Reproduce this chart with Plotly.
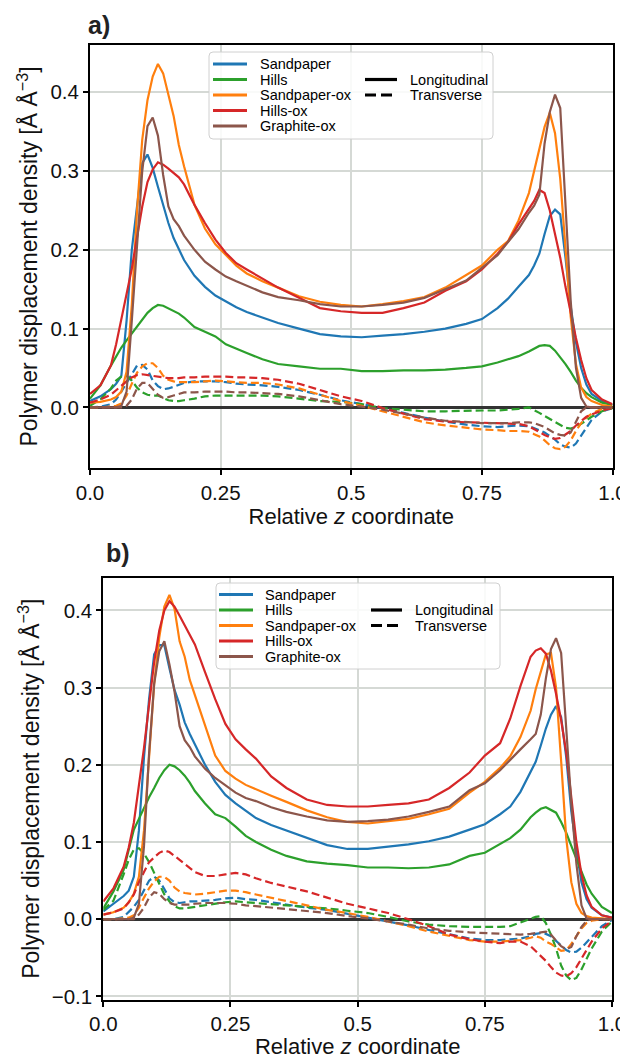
import plotly.graph_objects as go

# ---------------- data ----------------
X = [0.0, 0.02, 0.04, 0.05, 0.06, 0.07, 0.08, 0.09,
     0.10, 0.11, 0.12, 0.13, 0.14, 0.15, 0.16, 0.17, 0.18,
     0.20, 0.22, 0.24, 0.26, 0.28, 0.30,
     0.33, 0.36, 0.40, 0.44, 0.48, 0.52, 0.56, 0.60, 0.64, 0.68, 0.72,
     0.75, 0.78, 0.80, 0.82, 0.84,
     0.85, 0.86, 0.87, 0.88, 0.89, 0.90, 0.91, 0.92, 0.93, 0.94, 0.95, 0.96,
     0.98, 1.0]

SURFACES = ["Sandpaper", "Hills", "Sandpaper-ox", "Hills-ox", "Graphite-ox"]
COLORS = ["#1f77b4", "#2ca02c", "#ff7f0e", "#d62728", "#8c564b"]
STYLES = ["Longitudinal", "Transverse"]
X_TICKS = [0.0, 0.25, 0.5, 0.75, 1.0]
X_TICKTEXT = ["0.0", "0.25", "0.5", "0.75", "1.0"]
A_YTICKS = [0.0, 0.1, 0.2, 0.3, 0.4]
B_YTICKS = [-0.1, 0.0, 0.1, 0.2, 0.3, 0.4]

# panel a) longitudinal
a_sand_L = [0.008, 0.014, 0.023, 0.03, 0.04, 0.11, 0.2, 0.258,
            0.31, 0.321, 0.304, 0.28, 0.257, 0.234, 0.215, 0.2, 0.187,
            0.167, 0.153, 0.142, 0.134, 0.127, 0.121,
            0.114, 0.107, 0.1, 0.093, 0.09, 0.089, 0.091, 0.093, 0.096, 0.1, 0.106,
            0.112, 0.126, 0.138, 0.153, 0.168,
            0.18, 0.195, 0.22, 0.243, 0.251, 0.245, 0.19, 0.128, 0.083, 0.05, 0.029, 0.017,
            0.008, 0.003]
a_hills_L = [0.011, 0.028, 0.053, 0.065, 0.076, 0.085, 0.094, 0.103,
             0.111, 0.12, 0.126, 0.13, 0.129, 0.126, 0.123, 0.119, 0.114,
             0.102, 0.096, 0.09, 0.08, 0.074, 0.069,
             0.061, 0.055, 0.052, 0.049, 0.049, 0.046, 0.046, 0.047, 0.047, 0.048, 0.05,
             0.052, 0.057, 0.061, 0.065, 0.071,
             0.075, 0.078, 0.079, 0.078, 0.072, 0.064, 0.055, 0.045, 0.034, 0.025, 0.018, 0.013,
             0.006, 0.003]
a_sandox_L = [0.006, 0.007, 0.01, 0.013, 0.02, 0.045, 0.13, 0.25,
              0.34, 0.39, 0.42, 0.436, 0.424, 0.395, 0.37, 0.333, 0.306,
              0.257, 0.227, 0.207, 0.193, 0.18, 0.17,
              0.16, 0.152, 0.141, 0.134, 0.13, 0.128, 0.131, 0.135, 0.14, 0.152, 0.168,
              0.18, 0.2, 0.211, 0.237, 0.272,
              0.3, 0.33, 0.356, 0.374, 0.348, 0.29, 0.2, 0.115, 0.055, 0.025, 0.013, 0.008,
              0.003, 0.001]
a_hillsox_L = [0.017, 0.028, 0.053, 0.08, 0.112, 0.145, 0.176, 0.216,
               0.255, 0.286, 0.302, 0.311, 0.308, 0.303, 0.298, 0.292, 0.283,
               0.257, 0.234, 0.213, 0.196, 0.183, 0.175,
               0.163, 0.152, 0.139, 0.126, 0.122, 0.12, 0.12, 0.126, 0.133, 0.148, 0.16,
               0.175, 0.195, 0.21, 0.232, 0.252,
               0.262, 0.276, 0.272, 0.25, 0.222, 0.19, 0.153, 0.12, 0.088, 0.06, 0.037, 0.022,
               0.01, 0.004]
a_graphox_L = [0.0, 0.0, 0.0, 0.0, 0.002, 0.02, 0.11, 0.21,
               0.3, 0.357, 0.368, 0.345, 0.295, 0.255, 0.239, 0.23, 0.218,
               0.2, 0.185, 0.175, 0.166, 0.16, 0.154,
               0.146, 0.14, 0.136, 0.131, 0.128, 0.128, 0.13, 0.133, 0.139, 0.15, 0.161,
               0.177, 0.193, 0.21, 0.226, 0.247,
               0.256, 0.27, 0.335, 0.375, 0.397, 0.38, 0.25, 0.135, 0.05, 0.012, 0.001, 0.0,
               0.0, 0.0]
# panel a) transverse
a_sand_T = [0.0, 0.001, 0.004, 0.01, 0.02, 0.031, 0.043, 0.053,
            0.054, 0.048, 0.034, 0.027, 0.023, 0.024, 0.026, 0.029, 0.031,
            0.033, 0.033, 0.033, 0.032, 0.03, 0.029,
            0.028, 0.026, 0.022, 0.016, 0.009, 0.004, -0.001, -0.007, -0.013, -0.018, -0.022,
            -0.024, -0.025, -0.024, -0.023, -0.024,
            -0.026, -0.029, -0.032, -0.036, -0.041, -0.047, -0.05, -0.051, -0.046, -0.036, -0.026, -0.016,
            -0.005, -0.001]
a_hills_T = [0.002, 0.01, 0.024, 0.034, 0.039, 0.04, 0.034, 0.025,
             0.019, 0.016, 0.015, 0.015, 0.012, 0.009, 0.008, 0.008, 0.009,
             0.011, 0.014, 0.015, 0.015, 0.015, 0.015,
             0.015, 0.014, 0.011, 0.008, 0.007, 0.004, -0.001, -0.003, -0.005, -0.005, -0.004,
             -0.004, -0.004, -0.003, -0.002, 0.0,
             -0.003, -0.007, -0.011, -0.015, -0.019, -0.023, -0.026, -0.027, -0.025, -0.021, -0.016, -0.012,
             -0.005, -0.001]
a_sandox_T = [0.0, 0.0, 0.001, 0.002, 0.005, 0.015, 0.03, 0.044,
              0.052, 0.056, 0.056, 0.05, 0.04, 0.035, 0.033, 0.032, 0.032,
              0.032, 0.033, 0.034, 0.033, 0.032, 0.031,
              0.031, 0.029, 0.024, 0.016, 0.008, 0.002, -0.005, -0.012, -0.019, -0.023, -0.026,
              -0.028, -0.029, -0.03, -0.03, -0.031,
              -0.034, -0.037, -0.042, -0.048, -0.052, -0.053, -0.05, -0.042, -0.03, -0.02, -0.013, -0.008,
              -0.002, 0.0]
a_hillsox_T = [0.006, 0.01, 0.016, 0.022, 0.027, 0.033, 0.038, 0.041,
               0.042, 0.041, 0.04, 0.039, 0.038, 0.037, 0.037, 0.037, 0.038,
               0.038, 0.039, 0.039, 0.039, 0.038, 0.038,
               0.037, 0.035, 0.03, 0.022, 0.014, 0.008, -0.001, -0.008, -0.015, -0.018, -0.019,
               -0.02, -0.02, -0.021, -0.021, -0.024,
               -0.028, -0.032, -0.035, -0.038, -0.04, -0.039, -0.035, -0.03, -0.023, -0.017, -0.012, -0.009,
               -0.004, -0.001]
a_graphox_T = [0.0, 0.0, 0.0, 0.0, 0.0, 0.002, 0.01, 0.024,
               0.031, 0.031, 0.024, 0.016, 0.012, 0.013, 0.015, 0.017, 0.019,
               0.019, 0.02, 0.02, 0.02, 0.019, 0.019,
               0.018, 0.017, 0.014, 0.009, 0.004, 0.001, -0.003, -0.008, -0.013, -0.017, -0.019,
               -0.02, -0.02, -0.02, -0.019, -0.019,
               -0.02, -0.022, -0.025, -0.029, -0.033, -0.035, -0.036, -0.032, -0.018, -0.005, 0.0, 0.0,
               0.0, 0.0]

# panel b) longitudinal
b_sand_L = [0.01, 0.02, 0.03, 0.037, 0.055, 0.115, 0.21, 0.285,
            0.343, 0.355, 0.355, 0.325, 0.297, 0.278, 0.255, 0.24, 0.227,
            0.2, 0.178, 0.161, 0.15, 0.14, 0.131,
            0.122, 0.115, 0.105, 0.096, 0.091, 0.091, 0.094, 0.097, 0.101, 0.107, 0.116,
            0.123, 0.136, 0.146, 0.165, 0.19,
            0.204, 0.225, 0.247, 0.265, 0.276, 0.262, 0.21, 0.14, 0.09, 0.048, 0.026, 0.015,
            0.005, 0.002]
b_hills_L = [0.014, 0.036, 0.064, 0.09, 0.116, 0.13, 0.145, 0.158,
             0.17, 0.183, 0.193, 0.2, 0.198, 0.193, 0.186, 0.177, 0.166,
             0.15, 0.136, 0.131, 0.12, 0.108, 0.1,
             0.09, 0.082, 0.075, 0.072, 0.07, 0.067, 0.067, 0.066, 0.067, 0.071, 0.082,
             0.086, 0.097, 0.105, 0.116, 0.132,
             0.138, 0.143, 0.145, 0.142, 0.138, 0.126, 0.112, 0.095, 0.078, 0.062, 0.045, 0.033,
             0.016, 0.008]
b_sandox_L = [0.006, 0.009, 0.015, 0.022, 0.033, 0.055, 0.115, 0.21,
              0.305, 0.365, 0.405, 0.42, 0.402, 0.36, 0.34, 0.31, 0.29,
              0.249, 0.212, 0.192, 0.182, 0.174, 0.168,
              0.16, 0.152, 0.141, 0.132, 0.126, 0.124, 0.127, 0.13, 0.136, 0.143, 0.164,
              0.178, 0.196, 0.211, 0.236, 0.27,
              0.298, 0.32, 0.343, 0.345, 0.3, 0.205, 0.105, 0.048, 0.02, 0.008, 0.004, 0.002,
              0.001, 0.0]
b_hillsox_L = [0.023, 0.04, 0.068, 0.093, 0.125, 0.172, 0.222, 0.278,
               0.333, 0.374, 0.4, 0.412, 0.405, 0.393, 0.381, 0.37, 0.356,
               0.32, 0.285, 0.253, 0.233, 0.22, 0.208,
               0.185, 0.17, 0.155, 0.148, 0.146, 0.146, 0.148, 0.15, 0.155, 0.17, 0.19,
               0.212, 0.228, 0.26, 0.302, 0.34,
               0.348, 0.351, 0.344, 0.322, 0.292, 0.258, 0.216, 0.155, 0.1, 0.058, 0.031, 0.016,
               0.005, 0.002]
b_graphox_L = [0.0, 0.0, 0.0, 0.0, 0.002, 0.02, 0.095, 0.215,
               0.305, 0.347, 0.36, 0.33, 0.295, 0.25, 0.232, 0.223, 0.211,
               0.195, 0.183, 0.173, 0.164, 0.157, 0.153,
               0.145, 0.139, 0.133, 0.128, 0.126, 0.127, 0.129, 0.133, 0.139, 0.146, 0.167,
               0.176, 0.193, 0.207, 0.22, 0.233,
               0.24, 0.265, 0.312, 0.35, 0.364, 0.345, 0.25, 0.15, 0.072, 0.018, 0.001, 0.0,
               0.0, 0.0]
# panel b) transverse
b_sand_T = [0.0, 0.0, 0.003, 0.009, 0.016, 0.025, 0.037, 0.05,
            0.055, 0.05, 0.039, 0.027, 0.022, 0.021, 0.022, 0.023, 0.023,
            0.024, 0.025, 0.027, 0.028, 0.026, 0.025,
            0.022, 0.019, 0.015, 0.012, 0.007, 0.002, -0.003, -0.008, -0.014, -0.02, -0.025,
            -0.027, -0.027, -0.026, -0.025, -0.022,
            -0.019, -0.018, -0.019, -0.022, -0.028, -0.035, -0.04, -0.043, -0.042, -0.037, -0.03, -0.022,
            -0.009, -0.001]
b_hills_T = [0.012, 0.024, 0.058, 0.077, 0.09, 0.092, 0.085, 0.074,
             0.06, 0.045, 0.032, 0.023, 0.017, 0.014, 0.014, 0.015, 0.016,
             0.018, 0.02, 0.022, 0.023, 0.022, 0.021,
             0.019, 0.018, 0.016, 0.014, 0.011, 0.008, 0.003, -0.003, -0.007, -0.009, -0.01,
             -0.01, -0.01, -0.009, -0.004, 0.001,
             0.003, 0.004, -0.005, -0.02, -0.038, -0.06, -0.073, -0.079, -0.076, -0.065, -0.052, -0.038,
             -0.016, -0.003]
b_sandox_T = [0.0, 0.0, 0.001, 0.002, 0.005, 0.015, 0.028, 0.04,
              0.049, 0.055, 0.055, 0.05, 0.041, 0.036, 0.034, 0.033, 0.032,
              0.033, 0.035, 0.037, 0.037, 0.035, 0.032,
              0.028, 0.024, 0.018, 0.012, 0.008, 0.003, -0.003, -0.009, -0.016, -0.022, -0.027,
              -0.029, -0.029, -0.028, -0.027, -0.024,
              -0.022, -0.024, -0.029, -0.032, -0.037, -0.041, -0.04, -0.032, -0.022, -0.012, -0.005, -0.002,
              0.0, 0.0]
b_hillsox_T = [0.006, 0.009, 0.014, 0.022, 0.032, 0.048, 0.061, 0.074,
               0.08, 0.086, 0.089, 0.087, 0.082, 0.077, 0.072, 0.066, 0.061,
               0.056, 0.056, 0.058, 0.06, 0.058, 0.053,
               0.047, 0.042, 0.036, 0.028, 0.02, 0.014, 0.008, 0.0, -0.009, -0.02, -0.026,
               -0.029, -0.031, -0.029, -0.029, -0.035,
               -0.041, -0.047, -0.054, -0.062, -0.069, -0.073, -0.074, -0.07, -0.062, -0.051, -0.04, -0.029,
               -0.012, -0.002]
b_graphox_T = [0.0, 0.0, 0.0, 0.0, 0.0, 0.006, 0.015, 0.028,
               0.035, 0.033, 0.026, 0.021, 0.019, 0.019, 0.019, 0.019, 0.02,
               0.021, 0.021, 0.021, 0.02, 0.018, 0.017,
               0.015, 0.013, 0.011, 0.008, 0.004, 0.001, -0.003, -0.007, -0.012, -0.015, -0.017,
               -0.018, -0.019, -0.019, -0.02, -0.019,
               -0.018, -0.017, -0.016, -0.02, -0.028, -0.035, -0.039, -0.036, -0.022, -0.01, -0.002, 0.0,
               0.0, 0.0]

A_LONG = [a_sand_L, a_hills_L, a_sandox_L, a_hillsox_L, a_graphox_L]
A_TRANS = [a_sand_T, a_hills_T, a_sandox_T, a_hillsox_T, a_graphox_T]
B_LONG = [b_sand_L, b_hills_L, b_sandox_L, b_hillsox_L, b_graphox_L]
B_TRANS = [b_sand_T, b_hills_T, b_sandox_T, b_hillsox_T, b_graphox_T]

# ---------------- layout helpers ----------------
# The page body has a default 8px margin, so the figure is drawn 8px in from the
# window's top-left corner; the figure is sized to fill the rest of the window.
PAGE_W, PAGE_H, OFF = 628, 1059, 8
W, H = PAGE_W - OFF, PAGE_H - OFF
FONT = "Liberation Sans, Arial, Helvetica, sans-serif"


def fx(px):
    return (px - OFF) / W


def fy(py):
    return 1 - (py - OFF) / H


fig = go.Figure()

for axsuf, LONG, TRANS in (("", A_LONG, A_TRANS), ("2", B_LONG, B_TRANS)):
    for name, col, yl, yt in zip(SURFACES, COLORS, LONG, TRANS):
        fig.add_trace(go.Scatter(x=X, y=yl, mode="lines", name=name + " " + STYLES[0],
                                 line=dict(color=col, width=2.2),
                                 xaxis="x" + axsuf, yaxis="y" + axsuf, showlegend=False))
        fig.add_trace(go.Scatter(x=X, y=yt, mode="lines", name=name + " " + STYLES[1],
                                 line=dict(color=col, width=2.2, dash="8px,4px"),
                                 xaxis="x" + axsuf, yaxis="y" + axsuf, showlegend=False))

common = dict(showline=True, linecolor="black", linewidth=2, mirror=True,
              ticks="outside", ticklen=5, tickwidth=1.5, tickcolor="black",
              showgrid=True, gridcolor="#d5d9d5", gridwidth=1.5, automargin=False,
              tickfont=dict(size=20.5, color="#111", family=FONT))

xa = dict(common, range=[0, 1], tickvals=X_TICKS, ticktext=X_TICKTEXT, zeroline=False,
          title=dict(text="Relative <i>z</i> coordinate", font=dict(size=22, color="#111", family=FONT),
                     standoff=0))
ytitle = dict(text="Polymer displacement density [Å Å<sup>−3</sup>]",
              font=dict(size=23, color="#111", family=FONT), standoff=6)
ya = dict(common, zeroline=True, zerolinecolor="#333333", zerolinewidth=2.5, title=ytitle)

fig.update_layout(
    width=W, height=H, autosize=False,
    margin=dict(l=0, r=0, t=0, b=0, autoexpand=False),
    paper_bgcolor="white", plot_bgcolor="white",
    font=dict(family=FONT, color="black"),
    xaxis=dict(xa, domain=[fx(90), fx(612.5)], anchor="y"),
    yaxis=dict(ya, domain=[fy(468), fy(45)], anchor="x", range=[-0.077, 0.46],
               tickvals=A_YTICKS, ticktext=["0.0", "0.1", "0.2", "0.3", "0.4"]),
    xaxis2=dict(xa, domain=[fx(103.3), fx(612)], anchor="y2"),
    yaxis2=dict(ya, domain=[fy(999.5), fy(578)], anchor="x2", range=[-0.104, 0.442],
                tickvals=B_YTICKS, ticktext=["−0.1", "0.0", "0.1", "0.2", "0.3", "0.4"]),
)

shapes = []
annotations = []


def rounded_box(x0, y0, x1, y1, r=4):
    # pixel coords (top-left origin) -> paper path
    X0, X1 = fx(x0), fx(x1)
    Yt, Yb = fy(y0), fy(y1)
    rx, ry = r / W, r / H
    return (f"M {X0+rx},{Yt} L {X1-rx},{Yt} Q {X1},{Yt} {X1},{Yt-ry} "
            f"L {X1},{Yb+ry} Q {X1},{Yb} {X1-rx},{Yb} L {X0+rx},{Yb} "
            f"Q {X0},{Yb} {X0},{Yb+ry} L {X0},{Yt-ry} Q {X0},{Yt} {X0+rx},{Yt} Z")


def add_legend(box, rows_y, l1, t1, l2, t2, rows2_y):
    shapes.append(dict(type="path", xref="paper", yref="paper", path=rounded_box(*box),
                       line=dict(color="#d0d0d0", width=1), fillcolor="rgba(255,255,255,0.85)",
                       layer="above"))
    for name, col, yy in zip(SURFACES, COLORS, rows_y):
        shapes.append(dict(type="line", xref="paper", yref="paper", x0=fx(l1[0]), x1=fx(l1[1]),
                           y0=fy(yy), y1=fy(yy), line=dict(color=col, width=3.2), layer="above"))
        annotations.append(dict(xref="paper", yref="paper", x=fx(t1), y=fy(yy), text=name,
                                showarrow=False, xanchor="left", yanchor="middle",
                                font=dict(size=14.5, color="black", family=FONT)))
    for name, dash, yy in zip(STYLES, ["solid", "11px,5px"], rows2_y):
        shapes.append(dict(type="line", xref="paper", yref="paper", x0=fx(l2[0]), x1=fx(l2[1]),
                           y0=fy(yy), y1=fy(yy), line=dict(color="black", width=3.2, dash=dash),
                           layer="above"))
        annotations.append(dict(xref="paper", yref="paper", x=fx(t2), y=fy(yy), text=name,
                                showarrow=False, xanchor="left", yanchor="middle",
                                font=dict(size=14.5, color="black", family=FONT)))


add_legend((209, 52, 493, 139), [64, 79.5, 95, 110.5, 126], (213, 247), 258, (365, 397), 408, [79.5, 95])
add_legend((216, 583, 500, 669), [594.5, 610, 625.5, 641, 656.5], (219, 253), 263, (371, 402), 413, [610, 625.5])

annotations.append(dict(xref="paper", yref="paper", x=fx(99), y=fy(8.5), text="<b>a)</b>",
                        showarrow=False, xanchor="center", yanchor="top",
                        font=dict(size=25, color="#222", family=FONT)))
annotations.append(dict(xref="paper", yref="paper", x=fx(118), y=fy(553), text="<b>b)</b>",
                        showarrow=False, xanchor="center", yanchor="middle",
                        font=dict(size=25, color="#222", family=FONT)))

fig.update_layout(shapes=shapes, annotations=annotations)
fig.write_html("out.html")
